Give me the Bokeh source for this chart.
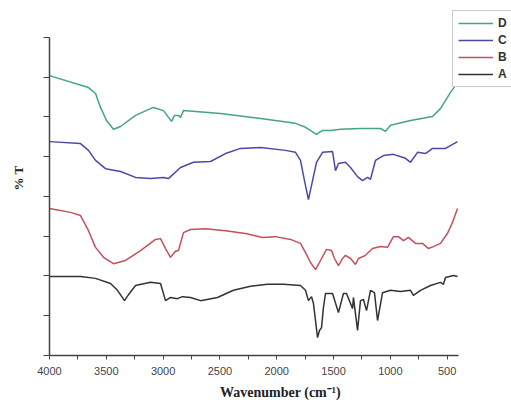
from bokeh.plotting import figure
from bokeh.models import Range1d, FixedTicker, Legend, LegendItem, CustomJSTickFormatter
from bokeh.embed import file_html
from bokeh.resources import INLINE

# Wavenumber (cm^-1) and relative %T (offset spectra)
a_x = [4000, 3727, 3595, 3463, 3402, 3340, 3305, 3243, 3111, 3023, 2979, 2935, 2874, 2830, 2759, 2671,
       2522, 2381, 2231, 2081, 1941, 1791, 1747, 1721, 1694, 1677, 1641, 1624, 1606, 1589, 1571, 1509,
       1457, 1413, 1386, 1333, 1325, 1289, 1263, 1237, 1210, 1175, 1140, 1113, 1069, 999, 911, 823,
       797, 735, 647, 559, 533, 515, 444, 409]
a_y = [1.99, 1.99, 1.94, 1.81, 1.64, 1.38, 1.53, 1.76, 1.84, 1.81, 1.38, 1.46, 1.43, 1.48, 1.46, 1.38,
       1.46, 1.64, 1.74, 1.79, 1.79, 1.76, 1.64, 1.38, 1.48, 1.31, 0.45, 0.63, 0.70, 1.21, 1.56, 1.56,
       1.08, 1.56, 1.56, 1.18, 1.46, 0.63, 1.38, 1.41, 1.13, 1.64, 1.58, 0.88, 1.58, 1.64, 1.61, 1.64,
       1.51, 1.64, 1.76, 1.84, 1.79, 1.96, 2.01, 1.99]

b_x = [4000, 3815, 3727, 3657, 3595, 3525, 3437, 3331, 3199, 3067, 3023, 2979, 2935, 2891, 2865, 2821,
       2759, 2627, 2451, 2275, 2125, 2011, 1879, 1791, 1747, 1703, 1659, 1615, 1562, 1518, 1492, 1457,
       1421, 1395, 1351, 1307, 1281, 1219, 1157, 1087, 1025, 973, 929, 885, 841, 779, 717, 665, 621,
       559, 498, 453, 409]
b_y = [3.70, 3.60, 3.52, 3.14, 2.72, 2.47, 2.31, 2.39, 2.64, 2.92, 2.94, 2.69, 2.47, 2.62, 2.64, 3.09,
       3.17, 3.19, 3.14, 3.07, 2.97, 2.99, 2.92, 2.82, 2.59, 2.34, 2.16, 2.39, 2.67, 2.64, 2.44, 2.26,
       2.44, 2.52, 2.44, 2.29, 2.44, 2.52, 2.69, 2.74, 2.72, 2.99, 2.99, 2.89, 2.97, 2.82, 2.82, 2.69, 2.74,
       2.82, 3.07, 3.35, 3.70]

c_x = [4000, 3727, 3657, 3595, 3507, 3375, 3243, 3111, 2997, 2953, 2847, 2733, 2583, 2451, 2319, 2143,
       1923, 1835, 1791, 1756, 1721, 1694, 1650, 1597, 1509, 1483, 1457, 1395, 1351, 1289, 1245, 1201,
       1175, 1131, 1061, 973, 867, 823, 761, 691, 629, 515, 409]
c_y = [5.38, 5.33, 5.16, 4.91, 4.70, 4.63, 4.48, 4.45, 4.48, 4.45, 4.73, 4.86, 4.88, 5.08, 5.21, 5.23,
       5.16, 5.11, 4.91, 4.40, 3.92, 4.28, 4.86, 5.11, 5.13, 4.65, 4.83, 4.86, 4.73, 4.50, 4.40, 4.48,
       4.43, 4.91, 5.03, 5.06, 4.96, 4.86, 5.11, 5.08, 5.21, 5.21, 5.38]

d_x = [4000, 3657, 3595, 3551, 3498, 3437, 3375, 3243, 3085, 2997, 2953, 2926, 2900, 2865, 2847, 2821,
       2495, 2143, 1835, 1747, 1650, 1597, 1527, 1439, 1263, 1087, 1043, 999, 823, 629, 559, 471, 427, 400]
d_y = [7.04, 6.74, 6.59, 6.24, 5.91, 5.69, 5.76, 6.04, 6.24, 6.16, 5.99, 5.89, 6.04, 6.04, 5.99, 6.16,
       6.09, 5.96, 5.84, 5.74, 5.56, 5.66, 5.66, 5.69, 5.71, 5.71, 5.64, 5.79, 5.91, 6.01, 6.21, 6.62, 6.79, 6.97]

x_ticks = [4000, 3500, 3000, 2500, 2000, 1500, 1000, 500]
x_minor = [3750, 3250, 2750, 2250, 1750, 1250, 750]
y_ticks = [0, 1, 2, 3, 4, 5, 6, 7, 8]

series_names = ["D", "C", "B", "A"]
colors = {"A": "#333333", "B": "#c4505c", "C": "#4a4aa6", "D": "#44a487"}

# frame spans to the right/top edges so the legend box is not clipped;
# axis bounds keep the drawn axes to 4000..400 and 0..8
p = figure(width=511, height=404, output_backend="svg", toolbar_location=None,
           x_range=Range1d(4000, -66), y_range=Range1d(0, 8.93),
           min_border_left=49, min_border_right=0, min_border_top=0, min_border_bottom=49)
p.outline_line_color = None
p.xgrid.visible = False
p.ygrid.visible = False
p.background_fill_color = "white"

data = {"A": (a_x, a_y), "B": (b_x, b_y), "C": (c_x, c_y), "D": (d_x, d_y)}
renderers = {}
for name in ["A", "B", "C", "D"]:
    xs, ys = data[name]
    renderers[name] = p.line(xs, ys, line_color=colors[name], line_width=1.5)

# x axis
xa = p.xaxis[0]
xa.bounds = (400, 4000)
xa.ticker = FixedTicker(ticks=x_ticks, minor_ticks=x_minor)
xa.axis_line_color = "#444444"
xa.axis_line_width = 1.5
xa.major_tick_line_color = "#444444"
xa.minor_tick_line_color = "#444444"
xa.major_tick_out = 4
xa.major_tick_in = 0
xa.minor_tick_out = 4
xa.minor_tick_in = 0
xa.major_label_text_font = "Liberation Sans"
xa.major_label_text_font_size = "11px"
xa.major_label_text_color = "#444444"
xa.major_label_standoff = 7
xa.axis_label = "Wavenumber (cm\u207b\u00b9)"
xa.axis_label_text_font = "Liberation Serif"
xa.axis_label_text_font_style = "bold"
xa.axis_label_text_font_size = "14px"
xa.axis_label_text_color = "#222222"
xa.axis_label_standoff = 7

# y axis
ya = p.yaxis[0]
ya.bounds = (0, 8)
ya.ticker = FixedTicker(ticks=y_ticks, minor_ticks=[])
ya.formatter = CustomJSTickFormatter(code="return ''")
ya.axis_line_color = "#444444"
ya.axis_line_width = 1.5
ya.major_tick_line_color = "#444444"
ya.major_tick_out = 6
ya.major_tick_in = 0
ya.minor_tick_line_color = None
ya.major_label_standoff = 0
ya.axis_label = "% T"
ya.axis_label_text_font = "Liberation Serif"
ya.axis_label_text_font_style = "bold"
ya.axis_label_text_font_size = "13px"
ya.axis_label_text_color = "#222222"
ya.axis_label_standoff = 18

items = [LegendItem(label=n, renderers=[renderers[n]]) for n in series_names]
legend = Legend(items=items, location=(403, 268), orientation="vertical",
                glyph_width=35, glyph_height=14, label_height=14, label_standoff=5,
                label_text_font="Liberation Sans", label_text_font_size="12px",
                label_text_font_style="bold", label_text_color="#333333",
                padding=5, spacing=3, margin=0,
                border_line_color="#999999", border_line_width=1,
                background_fill_color="white", background_fill_alpha=1.0)
p.add_layout(legend, "center")

open("out.html", "w").write(file_html(p, INLINE))
